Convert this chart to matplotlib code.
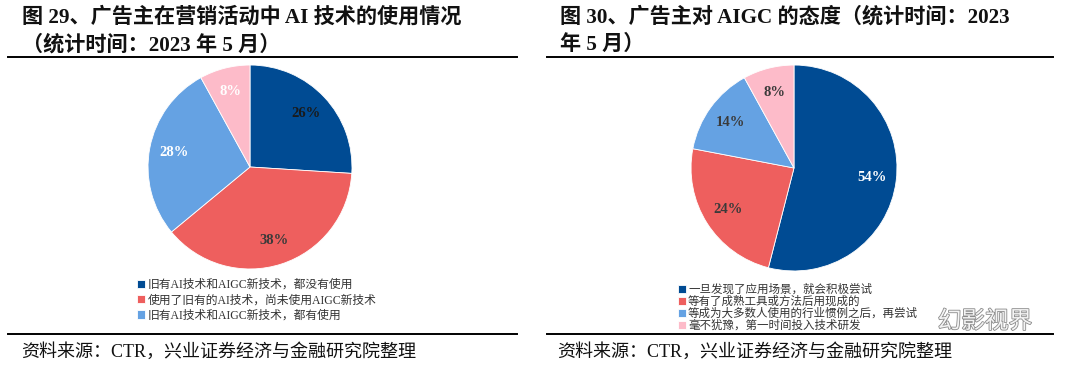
import matplotlib.pyplot as plt
import matplotlib.patheffects as pe

# 数据
pct_left = [26, 38, 28, 8]
labels_left = ['旧有AI技术和AIGC新技术，都没有使用',
               '使用了旧有的AI技术，尚未使用AIGC新技术',
               '旧有AI技术和AIGC新技术，都有使用',
               '毫不犹豫，第一时间投入技术研发']
pct_right = [54, 24, 14, 8]
labels_right = ['一旦发现了应用场景，就会积极尝试',
                '等有了成熟工具或方法后用现成的',
                '等成为大多数人使用的行业惯例之后，再尝试',
                '毫不犹豫，第一时间投入技术研发']

colors = ['#004b93', '#ee5f5e', '#65a2e3', '#fdbbc9']
txt_left = ['#1a1a1a', '#3a3a3a', 'white', 'white']
txt_right = ['white', '#3a3a3a', '#3a3a3a', '#3a3a3a']

title_left = '图 29、广告主在营销活动中 AI 技术的使用情况\n（统计时间：2023 年 5 月）'
title_right = '图 30、广告主对 AIGC 的态度（统计时间：2023\n年 5 月）'
source = '资料来源：CTR，兴业证券经济与金融研究院整理'

W, H = 1073, 372
fam = ['Liberation Serif', 'Noto Sans CJK SC']

fig = plt.figure(figsize=(W / 100, H / 100), dpi=100)


def px_axes(cx, cy, r):
    return fig.add_axes([(cx - r) / W, (H - cy - r) / H, 2 * r / W, 2 * r / H])


def draw_pie(ax, vals, tcols):
    wedges, texts, autotexts = ax.pie(vals, colors=colors, startangle=90, counterclock=False,
                                      autopct='%d%%', pctdistance=0.76,
                                      wedgeprops=dict(linewidth=0.6, edgecolor='white'))
    for t, c in zip(autotexts, tcols):
        t.set_color(c)
        t.set_fontfamily('Liberation Serif')
        t.set_fontweight('bold')
        t.set_fontsize(10.5)
    ax.set_xlim(-1.01, 1.01)
    ax.set_ylim(-1.01, 1.01)
    ax.axis('off')
    return wedges


ax1 = px_axes(250, 167, 103)
w1 = draw_pie(ax1, pct_left, txt_left)
ax2 = px_axes(794, 168, 104)
w2 = draw_pie(ax2, pct_right, txt_right)

# 标题
fig.text(22 / W, 1 - 7 / H, title_left, ha='left', va='top', fontsize=15.2,
         fontweight='bold', family=fam, color='#111111', linespacing=1.45)
fig.text(560 / W, 1 - 7 / H, title_right, ha='left', va='top', fontsize=15.2,
         fontweight='bold', family=fam, color='#111111', linespacing=1.45)

# 分隔线
for x0, x1 in [(8, 517), (547, 1053)]:
    fig.add_artist(plt.Line2D([x0 / W, x1 / W], [1 - 57 / H] * 2, color='black', lw=1.4))
    fig.add_artist(plt.Line2D([x0 / W, x1 / W], [1 - 334 / H] * 2, color='black', lw=1.4))

# 图例
fig.legend(w1[:3], labels_left[:3], loc='upper left', bbox_to_anchor=(131 / W, 1 - 273 / H),
           frameon=False, prop={'family': fam, 'size': 8.5}, handlelength=0.7, handleheight=0.7,
           handletextpad=0.2, labelspacing=0.28, borderpad=0, labelcolor='#333333')
fig.legend(w2, labels_right, loc='upper left', bbox_to_anchor=(672 / W, 1 - 278 / H),
           frameon=False, prop={'family': fam, 'size': 8.3}, handlelength=0.7, handleheight=0.7,
           handletextpad=0.2, labelspacing=0.0, borderpad=0, labelcolor='#333333')

# 资料来源
fig.text(21 / W, 1 - 352 / H, source, ha='left', va='center', fontsize=13,
         family=fam, color='#111111')
fig.text(557 / W, 1 - 352 / H, source, ha='left', va='center', fontsize=13,
         family=fam, color='#111111')

# 水印
fig.text(985 / W, 1 - 322 / H, '幻影视界', ha='center', va='center', fontsize=17,
         family=fam, color='#f4f4f4',
         path_effects=[pe.withStroke(linewidth=1.2, foreground='#8a8a8a')])

fig.savefig('out.png', dpi=100)
